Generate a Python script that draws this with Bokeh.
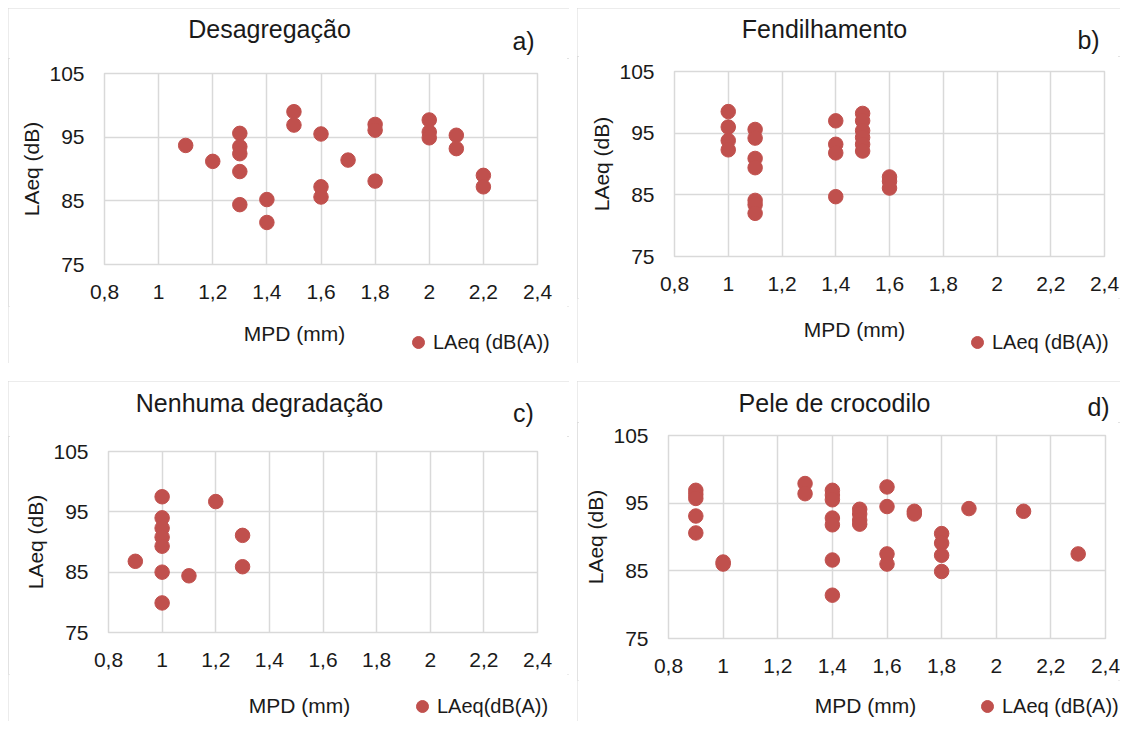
from bokeh.plotting import figure
from bokeh.layouts import column, row
from bokeh.models import Range1d, FixedTicker, Label, Legend, LegendItem
from bokeh.embed import file_html
from bokeh.resources import INLINE

# ---------------- data ----------------
x_ticks = [0.8, 1.0, 1.2, 1.4, 1.6, 1.8, 2.0, 2.2, 2.4]
x_tick_labels = ["0,8", "1", "1,2", "1,4", "1,6", "1,8", "2", "2,2", "2,4"]
y_ticks = [75, 85, 95, 105]
y_tick_labels = ["75", "85", "95", "105"]

titles = ["Desagregação", "Fendilhamento", "Nenhuma degradação", "Pele de crocodilo"]
letters = ["a)", "b)", "c)", "d)"]
legend_labels = ["LAeq (dB(A))", "LAeq (dB(A))", "LAeq(dB(A))", "LAeq (dB(A))"]
x_title = "MPD (mm)"
y_title = "LAeq (dB)"

a_mpd = [1.1, 1.2, 1.3, 1.3, 1.3, 1.3, 1.3, 1.4, 1.4, 1.5, 1.5, 1.6, 1.6, 1.6, 1.7,
         1.8, 1.8, 1.8, 2.0, 2.0, 2.0, 2.1, 2.1, 2.2, 2.2]
a_laeq = [93.7, 91.2, 95.6, 93.5, 92.4, 89.6, 84.4, 85.2, 81.6, 99.0, 96.9, 95.5, 87.2, 85.6, 91.4,
          97.0, 96.1, 88.1, 97.7, 95.8, 94.9, 95.3, 93.2, 89.0, 87.2]

b_mpd = [1.0, 1.0, 1.0, 1.0, 1.1, 1.1, 1.1, 1.1, 1.1, 1.1, 1.1, 1.4, 1.4, 1.4, 1.4,
         1.5, 1.5, 1.5, 1.5, 1.5, 1.5, 1.6, 1.6, 1.6]
b_laeq = [98.5, 96.0, 93.8, 92.3, 95.6, 94.2, 90.9, 89.4, 84.1, 83.4, 82.0, 97.0, 93.2, 91.8, 84.7,
          98.2, 97.0, 95.4, 94.3, 93.2, 92.1, 87.9, 87.2, 86.1]

c_mpd = [0.9, 1.0, 1.0, 1.0, 1.0, 1.0, 1.0, 1.0, 1.1, 1.2, 1.3, 1.3]
c_laeq = [86.8, 97.5, 94.0, 92.3, 90.8, 89.3, 85.0, 79.9, 84.4, 96.7, 91.1, 85.9]

d_mpd = [0.9, 0.9, 0.9, 0.9, 0.9, 1.0, 1.0, 1.3, 1.3, 1.4, 1.4, 1.4, 1.4, 1.4, 1.4, 1.4,
         1.5, 1.5, 1.5, 1.5, 1.6, 1.6, 1.6, 1.6, 1.7, 1.7, 1.8, 1.8, 1.8, 1.8, 1.9, 2.1, 2.3]
d_laeq = [96.9, 96.3, 95.7, 93.1, 90.6, 86.3, 86.0, 97.9, 96.4, 96.9, 96.2, 95.5, 92.8, 91.8, 86.6, 81.4,
          94.1, 93.4, 92.5, 91.9, 97.4, 94.5, 87.5, 86.0, 93.8, 93.4, 90.5, 89.1, 87.3, 84.9, 94.2, 93.8, 87.5]

series = [(a_mpd, a_laeq), (b_mpd, b_laeq), (c_mpd, c_laeq), (d_mpd, d_laeq)]

# ---------------- layout / style ----------------
FONT = "Liberation Sans"
TXT = "#1a1a1a"
GRID = "#D9D9D9"
DOT = "#C0504D"

# panel width; top strip height T; plot: min borders (l, r, t, b), frame height fh; bottom strip B
# text anchors inside strips: (x from panel left, y from strip bottom)
geom = [
    dict(w=561, T=50, l=96, r=32, t=15, fh=191, b=42, B=57,
         title=(261, 30), letter=(515, 18), xlab=(286, 30), leg=(410, 21)),
    dict(w=543, T=48, l=97, r=16, t=15, fh=185, b=42, B=65,
         title=(247, 28), letter=(511, 17), xlab=(277, 34), leg=(400, 21)),
    dict(w=561, T=55, l=100, r=32, t=15, fh=181, b=42, B=47,
         title=(251, 34), letter=(515, 24), xlab=(291, 16), leg=(414, 15)),
    dict(w=543, T=41, l=91, r=15, t=13, fh=203, b=42, B=41,
         title=(257, 20), letter=(521, 16), xlab=(288, 16), leg=(410, 15)),
]


def strip(w, h):
    # text strip; its unit ranges leave every data point outside the visible frame
    s = figure(width=w, height=h, output_backend="svg", toolbar_location=None,
               x_range=Range1d(0, 1), y_range=Range1d(0, 1),
               x_axis_type=None, y_axis_type=None, min_border=0, frame_align=False)
    s.grid.visible = False
    s.outline_line_color = None
    s.background_fill_color = "white"
    s.border_fill_color = "white"
    return s


def make_panel(i):
    g = geom[i]
    xs, ys = series[i]
    w = g["w"]

    # --- top strip: title + panel letter
    top = strip(w, g["T"])
    tx, ty = g["title"]
    top.add_layout(Label(x=tx, y=ty, x_units="screen", y_units="screen", text=titles[i],
                         text_font=FONT, text_font_size="25px", text_color=TXT,
                         text_align="center", text_baseline="middle"))
    lx, ly = g["letter"]
    top.add_layout(Label(x=lx, y=ly, x_units="screen", y_units="screen", text=letters[i],
                         text_font=FONT, text_font_size="25px", text_color=TXT,
                         text_align="center", text_baseline="middle"))

    # --- main scatter plot
    h = g["t"] + g["fh"] + g["b"]
    p = figure(width=w, height=h, output_backend="svg", toolbar_location=None,
               x_range=Range1d(x_ticks[0], x_ticks[-1]), y_range=Range1d(y_ticks[0], y_ticks[-1]),
               min_border_left=g["l"], min_border_right=g["r"],
               min_border_top=g["t"], min_border_bottom=g["b"], frame_align=False)
    p.background_fill_color = "white"
    p.border_fill_color = "white"
    p.outline_line_color = GRID
    p.outline_line_width = 1.5

    p.xaxis.ticker = FixedTicker(ticks=x_ticks)
    p.xaxis.major_label_overrides = dict(zip(x_ticks, x_tick_labels))
    p.yaxis.ticker = FixedTicker(ticks=y_ticks)
    p.yaxis.major_label_overrides = dict(zip(y_ticks, y_tick_labels))
    for ax in (p.xaxis, p.yaxis):
        ax.axis_line_color = None
        ax.major_tick_line_color = None
        ax.minor_tick_line_color = None
        ax.major_label_text_font = FONT
        ax.major_label_text_font_size = "21px"
        ax.major_label_text_color = TXT
        ax.major_label_standoff = 14
    p.yaxis.axis_label = y_title
    p.yaxis.axis_label_text_font = FONT
    p.yaxis.axis_label_text_font_size = "21px"
    p.yaxis.axis_label_text_font_style = "normal"
    p.yaxis.axis_label_text_color = TXT
    p.yaxis.axis_label_standoff = 3

    p.xgrid.grid_line_color = GRID
    p.ygrid.grid_line_color = GRID
    p.xgrid.grid_line_width = 1.5
    p.ygrid.grid_line_width = 1.5

    p.scatter(xs, ys, size=14.5, fill_color=DOT, line_color=DOT)

    # --- bottom strip: x-axis title + legend
    bot = strip(w, g["B"])
    mx, my = g["xlab"]
    bot.add_layout(Label(x=mx, y=my, x_units="screen", y_units="screen", text=x_title,
                         text_font=FONT, text_font_size="21px", text_color=TXT,
                         text_align="center", text_baseline="middle"))
    # legend key: the same series, all outside this strip's unit ranges (only the key shows)
    key = bot.scatter(xs, ys, size=14.5, fill_color=DOT, line_color=DOT)
    gx, gy = g["leg"]
    legend = Legend(items=[LegendItem(label=legend_labels[i], renderers=[key])],
                    location=(gx - 15, gy - 15), margin=0, padding=0, spacing=0,
                    glyph_width=30, glyph_height=30, label_standoff=0,
                    label_text_font=FONT, label_text_font_size="20px", label_text_color=TXT,
                    border_line_color=None, background_fill_alpha=0)
    bot.add_layout(legend)

    return column(top, p, bot, spacing=0,
                  styles={"outline": "2px solid #D9D9D9", "outline-offset": "-2px"})


panels = [make_panel(i) for i in range(4)]
layout = column(row(panels[0], panels[1], spacing=8),
                row(panels[2], panels[3], spacing=8), spacing=18, margin=(8, 0, 0, 8))

with open("out.html", "w") as f:
    f.write(file_html(layout, INLINE))
